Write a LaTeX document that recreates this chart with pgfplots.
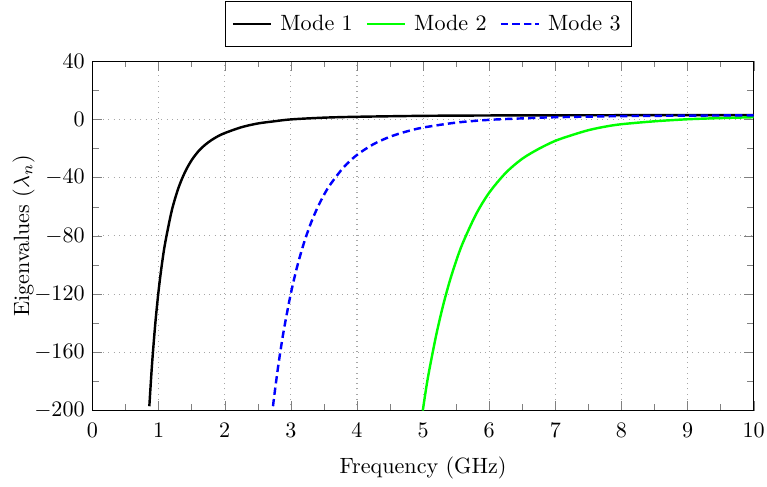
\documentclass[border=0pt]{standalone}
\usepackage{pgfplots}
\pgfplotsset{compat=1.18}
\begin{document}
\begin{tikzpicture}
\begin{axis}[
  scale only axis,
  width=299pt, height=158pt,
  xmin=0, xmax=10, ymin=-200, ymax=40,
  xtick={0,1,...,10}, ytick={-200,-160,-120,-80,-40,0,40},
  minor x tick num=1, minor y tick num=1,
  grid=major,
  major grid style={dotted, gray!70, line width=0.5pt},
  xlabel={Frequency (GHz)},
  ylabel={Eigenvalues ($\lambda_n$)},
  xticklabel shift=2pt,
  xticklabel style={inner xsep=1pt},
  xlabel shift=2pt,
  ylabel shift=-7pt,
  legend columns=3,
  legend style={at={(0.508,1.04)}, anchor=south, draw=black, font=\normalsize,
    inner ysep=4pt,
    /tikz/every odd column/.append style={column sep=1.8pt},
    /tikz/every even column/.append style={column sep=3.8pt}},
  legend cell align=left,
]
\addplot[black, line width=1.1pt, smooth, tension=0.5] coordinates {
(0.86,-197) (0.9,-168.7) (0.95,-140.3) (1.0,-117.7) (1.05,-99.5) (1.1,-84.7)
(1.2,-62.5) (1.3,-47.1) (1.4,-36.1) (1.5,-28.0) (1.6,-22.0) (1.7,-17.6)
(1.8,-14.2) (1.9,-11.5)
(2.0,-9.4) (2.25,-5.4) (2.5,-2.8) (2.75,-1.3) (3.0,0.0) (3.5,1.2) (4.0,1.8)
(5.0,2.45) (6.0,2.7) (7.0,2.82) (8.0,2.88) (9.0,2.91) (10.0,2.93)
};
\addlegendentry{Mode 1}
\addplot[green, line width=1.1pt, smooth, tension=0.5] coordinates {
(4.995,-200) (5.05,-183.5) (5.1,-170.6) (5.2,-147.7) (5.3,-128.2) (5.4,-111.5)
(5.5,-97.2) (5.6,-84.9) (5.8,-65.2) (6.0,-50.3) (6.25,-36.7) (6.5,-27.0)
(6.75,-20.2) (7.0,-14.7) (7.25,-10.8) (7.5,-7.4) (7.75,-5.0) (8.0,-3.3)
(8.5,-1.3) (9.0,0.1) (9.5,0.9) (10.0,1.5)
};
\addlegendentry{Mode 2}
\addplot[blue, dash pattern=on 3.3pt off 1.9pt, line width=1.1pt, smooth, tension=0.5] coordinates {
(2.73,-197) (2.75,-189.5) (2.8,-172.3) (2.85,-156.9) (2.9,-143.1) (3.0,-119.5)
(3.1,-100.3) (3.2,-84.6) (3.3,-71.6) (3.4,-60.9) (3.5,-51.9) (3.6,-44.5)
(3.8,-32.8) (4.0,-24.4) (4.25,-17.0) (4.5,-11.9) (4.75,-8.3) (5.0,-5.6)
(5.5,-2.2) (6.0,-0.3) (6.5,0.7) (7.0,1.5) (8.0,2.25) (9.0,2.6) (10.0,2.77)
};
\addlegendentry{Mode 3}
\end{axis}
\path ([xshift=-2.3pt]current bounding box.west);
\path ([yshift=0.5pt]current bounding box.north);
\end{tikzpicture}
\end{document}
